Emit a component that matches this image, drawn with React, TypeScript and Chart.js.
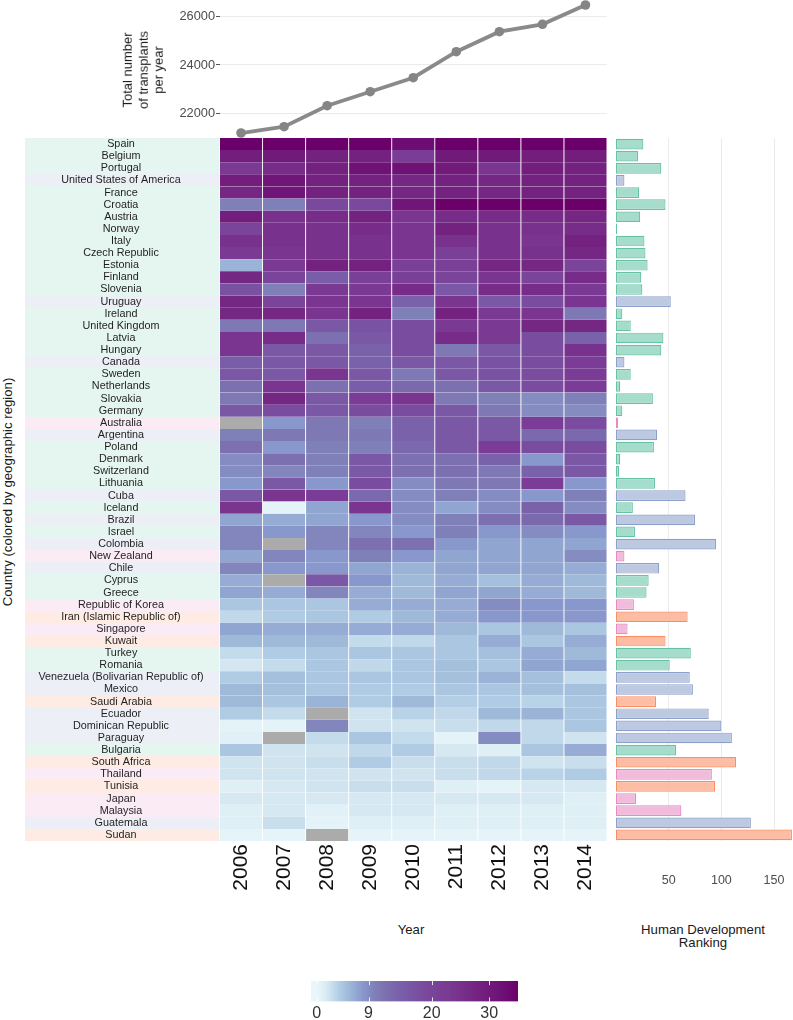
import React, { useEffect, useRef } from 'react';
import { Chart, registerables } from 'chart.js';

Chart.register(...registerables);

const FONT = "'Liberation Sans', Arial, Helvetica, sans-serif";

// ---------- data ----------
const years = ['2006', '2007', '2008', '2009', '2010', '2011', '2012', '2013', '2014'];
const totalTransplants = [21184, 21445, 22315, 22894, 23474, 24551, 25379, 25685, 26484];
const transplantTicks = [22000, 24000, 26000];

const countries = [
  'Spain', 'Belgium', 'Portugal', 'United States of America', 'France', 'Croatia', 'Austria', 'Norway', 'Italy', 'Czech Republic',
  'Estonia', 'Finland', 'Slovenia', 'Uruguay', 'Ireland', 'United Kingdom', 'Latvia', 'Hungary', 'Canada', 'Sweden',
  'Netherlands', 'Slovakia', 'Germany', 'Australia', 'Argentina', 'Poland', 'Denmark', 'Switzerland', 'Lithuania', 'Cuba',
  'Iceland', 'Brazil', 'Israel', 'Colombia', 'New Zealand', 'Chile', 'Cyprus', 'Greece', 'Republic of Korea', 'Iran (Islamic Republic of)',
  'Singapore', 'Kuwait', 'Turkey', 'Romania', 'Venezuela (Bolivarian Republic of)', 'Mexico', 'Saudi Arabia', 'Ecuador', 'Dominican Republic', 'Paraguay',
  'Bulgaria', 'South Africa', 'Thailand', 'Tunisia', 'Japan', 'Malaysia', 'Guatemala', 'Sudan',
];

// E = Europe, A = Americas, P = Asia-Pacific, M = Middle East / Africa
const regions = [
  'E', 'E', 'E', 'A', 'E', 'E', 'E', 'E', 'E', 'E',
  'E', 'E', 'E', 'A', 'E', 'E', 'E', 'E', 'A', 'E',
  'E', 'E', 'E', 'P', 'A', 'E', 'E', 'E', 'E', 'A',
  'E', 'A', 'E', 'A', 'P', 'A', 'E', 'E', 'P', 'M',
  'P', 'M', 'E', 'E', 'A', 'A', 'M', 'A', 'A', 'A',
  'E', 'M', 'P', 'M', 'P', 'P', 'A', 'M',
];

const hdiRank = [
  26, 21, 43, 8, 22, 47, 23, 1, 27, 28,
  30, 24, 25, 52, 6, 14, 45, 43, 8, 14,
  4, 35, 6, 2, 39, 36, 4, 3, 37, 66,
  16, 75, 18, 95, 8, 41, 31, 29, 17, 68,
  11, 47, 71, 51, 70, 73, 38, 88, 100, 110,
  57, 114, 91, 94, 19, 62, 128, 167,
];
const hdiTicks = [50, 100, 150];

const rates2006 = [35, 29, 23, 29, 27, 10, 29, 20, 25, 23, 6, 27, 17, 27, 27, 11, 24, 24, 15, 16, 12, 11, 16, null, 10, 12, 9, 9, 8, 16, 24, 7, 9.5, 9.5, 7, 9.5, 6.5, 7, 4.5, 3, 7, 5.5, 2.8, 2, 4, 5.5, 5.5, 4, 0.5, 1, 4.5, 2.2, 2.2, 1.2, 1.8, 1.2, 1.2, 0.4];
const rates2007 = [35, 30, 26, 31, 31, 10, 25, 25, 25, 24, 23, 20, 10, 20, 27, 11, 26, 16, 16, 16, 24, 27, 18, 8, 11, 8, 12, 9.5, 16, 24, 0.5, 6.5, 8, null, 9.5, 8, null, 6.5, 4.5, 4, 6.5, 5.5, 4, 2.8, 5, 5, 4.5, 2.8, 0.5, null, 2.2, 2.2, 2.2, 1.8, 1.8, 1.8, 2.6, 0.4];
const rates2008 = [35, 28, 28, 28, 28, 19, 26, 25, 25, 25, 28, 15, 23, 24, 24, 16, 12, 16, 16, 24, 12, 16, 16, 11, 11, 10, 10, 10, 8, 22, 7, 7, 9.5, 9.5, 8, 8, 16, 9.5, 4.5, 4.5, 6.5, 5.5, 4.5, 4.5, 4.5, 4.5, 6, null, 9.5, 2.8, 2.2, 2.6, 2.2, 2.2, 1.8, 0.8, 0.5, null];
const rates2009 = [35, 28, 32, 28, 28, 19, 28, 26, 25, 25, 28, 21, 23, 24, 28, 17, 16, 14, 14, 16, 15, 22, 18, 10, 11, 10, 16, 16, 18, 13, 24, 8, 9.5, 12, 10, 7, 8, 6.5, 6.5, 4, 6.5, 2.8, 4.5, 3, 4.5, 4, 4, 2.2, 2.2, 4.5, 3, 4, 2.2, 2.6, 1.8, 1.8, 1.2, 0.3];
const rates2010 = [33, 22, 32, 27, 27, 31, 24, 24, 24, 24, 21, 21, 26, 14, 10, 18, 18, 18, 16, 11, 13, 24, 18, 14, 14, 13, 12, 12, 9, 9, 9, 9, 8, 12, 8, 6, 5.5, 5.5, 6.5, 5.5, 6.5, 3, 4.5, 4.5, 4.5, 4, 5.5, 3.5, 2.2, 2.8, 4, 2.6, 2.2, 2.6, 1.8, 1.8, 1.2, 0.3];
const rates2011 = [35, 30, 30, 28, 28, 35, 26, 28, 25, 21, 21, 20, 16, 24, 28, 23, 26, 11, 16, 16, 12, 11, 16, 16, 16, 16, 12, 12, 11, 10, 7, 10, 10, 8, 7, 7, 6.5, 7, 6.5, 6.5, 5.5, 4.5, 4.5, 5, 5, 4.5, 3.8, 3, 2.6, 0.5, 1.8, 2.6, 2.6, 1.2, 1.8, 1.2, 1.2, 0.3];
const rates2012 = [35, 30, 24, 27, 27, 35, 26, 25, 25, 25, 27, 24, 26, 16, 23, 23, 23, 16, 17, 17, 16, 10, 11, 16, 16, 22, 14, 11, 11, 9, 9, 12, 8, 7, 7, 7, 5, 7, 9, 8, 4.5, 6.5, 5, 4.5, 6, 4.5, 4, 5.5, 3, 9, 1.2, 3, 3, 0.5, 1.8, 1.2, 1.2, 0.3];
const rates2013 = [35, 29, 29, 28, 28, 35, 26, 25, 24, 25, 27, 20, 26, 18, 24, 27, 18, 18, 18, 18, 18, 9, 9, 22, 13, 18, 8, 14, 22, 8, 14, 13, 9, 7, 7, 7, 6.5, 6.5, 8, 8, 5.5, 4.5, 6.5, 7, 5, 5, 3.5, 6, 3, 3, 4.5, 2.2, 3.5, 1.8, 1.8, 1.2, 1.2, 0.3];
const rates2014 = [35, 29, 28, 28, 28, 35, 27, 26, 28, 27, 20, 26, 23, 24, 11, 27, 14, 25, 22, 22, 22, 10, 9, 18, 13, 18, 16, 16, 8, 10, 9, 16, 8, 7, 9, 6.5, 5.5, 5.5, 8, 8, 4.5, 6.5, 5.5, 7, 2.8, 5, 4.5, 4.5, 4.5, 2.2, 6.5, 2.6, 4, 1.8, 1.2, 1.2, 1.2, 0.3];
const rateSeries = [rates2006, rates2007, rates2008, rates2009, rates2010, rates2011, rates2012, rates2013, rates2014];

const legendTicks = [0, 9, 20, 30];
const colorMin = -1;
const colorMax = 35;

// ---------- styles ----------
const colorStops: [number, string][] = [
  [0, '#e9f6fa'], [1.2, '#deeff5'], [2.2, '#d0e4f0'], [3, '#c0d8ea'], [4, '#b0cce4'],
  [5, '#a4c0dc'], [6.5, '#96acd4'], [8, '#8898cc'], [10, '#8080b8'], [12, '#7c70b0'],
  [14, '#7a62aa'], [16, '#7a58a6'], [18, '#7a4ca0'], [20, '#7a449a'], [22, '#7a3c96'],
  [24, '#793590'], [26, '#762c88'], [28, '#742280'], [30, '#711a7a'], [32, '#6e1276'], [35, '#6b006b'],
];
const NA_COLOR = '#ababab';
const regionColor: Record<string, string> = { E: '#66c2a5', A: '#8da0cb', P: '#e78ac3', M: '#fc8d62' };

function hexRgb(h: string) {
  const n = parseInt(h.slice(1), 16);
  return [(n >> 16) & 255, (n >> 8) & 255, n & 255];
}
function tint(hex: string, a: number) {
  const c = hexRgb(hex).map((v) => Math.round(255 - a * (255 - v)));
  return `rgb(${c.join(',')})`;
}
function colorFor(v: number | null) {
  if (v === null || v === undefined) return NA_COLOR;
  const s = colorStops;
  if (v <= s[0][0]) return s[0][1];
  for (let i = 1; i < s.length; i++) {
    if (v <= s[i][0]) {
      const t = (v - s[i - 1][0]) / (s[i][0] - s[i - 1][0]);
      const a = hexRgb(s[i - 1][1]);
      const b = hexRgb(s[i][1]);
      return `rgb(${a.map((c, k) => Math.round(c + (b[k] - c) * t)).join(',')})`;
    }
  }
  return s[s.length - 1][1];
}

// remove Chart.js's automatic label overflow padding so plot areas line up exactly
function noPad(ax: any) {
  ax.paddingTop = 0;
  ax.paddingBottom = 0;
  ax.paddingLeft = 0;
  ax.paddingRight = 0;
}

// ---------- plugins ----------
const regionBands = {
  id: 'regionBands',
  beforeDraw(chart: any) {
    const { ctx, chartArea, scales } = chart;
    const y = scales.y;
    const h = (y.bottom - y.top) / countries.length;
    ctx.save();
    countries.forEach((_, i) => {
      const cy = y.getPixelForValue(i);
      const y0 = Math.round(cy - h / 2);
      const y1 = Math.round(cy + h / 2);
      ctx.fillStyle = tint(regionColor[regions[i]], 0.17);
      ctx.fillRect(0, y0, chartArea.left, y1 - y0);
    });
    ctx.restore();
  },
};

const colorbarTicks = {
  id: 'colorbarTicks',
  afterDatasetsDraw(chart: any) {
    const { ctx, chartArea: a, scales } = chart;
    const len = (a.bottom - a.top) / 5;
    ctx.save();
    ctx.strokeStyle = 'rgba(255,255,255,0.85)';
    ctx.lineWidth = 1;
    legendTicks.forEach((t) => {
      const px = Math.round(scales.x.getPixelForValue(t)) + 0.5;
      ctx.beginPath();
      ctx.moveTo(px, a.top);
      ctx.lineTo(px, a.top + len);
      ctx.moveTo(px, a.bottom - len);
      ctx.lineTo(px, a.bottom);
      ctx.stroke();
    });
    ctx.restore();
  },
};

// ---------- chart configs ----------
function lineConfig(): any {
  return {
    type: 'line',
    data: {
      labels: years,
      datasets: [{
        data: totalTransplants,
        borderColor: '#8a8a8a',
        borderWidth: 3.8,
        pointRadius: 4.8,
        pointBackgroundColor: '#858585',
        pointBorderWidth: 0,
        tension: 0,
        clip: false,
      }],
    },
    options: {
      responsive: false,
      animation: false,
      layout: { padding: 0, autoPadding: false },
      plugins: { legend: { display: false }, tooltip: { enabled: false } },
      scales: {
        x: { type: 'category', offset: true, display: false, afterFit: noPad },
        y: {
          min: 20936,
          max: 26691,
          afterBuildTicks: (ax: any) => { ax.ticks = transplantTicks.map((v) => ({ value: v })); },
          afterFit: (ax: any) => { ax.width = 59.5; noPad(ax); },
          grid: { color: '#ebebeb', lineWidth: 1, tickColor: '#555555', tickLength: 3.5 },
          border: { display: false },
          ticks: { padding: 1, color: '#4d4d4d', font: { size: 12.8, family: FONT }, callback: (v: number) => String(v) },
        },
      },
    },
  };
}

function heatmapConfig(): any {
  return {
    type: 'bar',
    data: {
      labels: countries,
      datasets: years.map((yr, j) => ({
        label: yr,
        data: countries.map(() => 1),
        backgroundColor: rateSeries[j].map(colorFor),
        borderColor: '#ffffff',
        borderWidth: { left: 0.8, right: 0.8, top: 0, bottom: 0 },
        borderSkipped: false,
        barPercentage: 1,
        categoryPercentage: 1,
      })),
    },
    options: {
      indexAxis: 'y',
      responsive: false,
      animation: false,
      layout: { padding: 0, autoPadding: false },
      plugins: { legend: { display: false }, tooltip: { enabled: false } },
      scales: {
        x: {
          type: 'linear',
          stacked: true,
          min: 0,
          max: years.length,
          afterBuildTicks: (ax: any) => { ax.ticks = years.map((_, j) => ({ value: j + 0.5 })); },
          afterFit: (ax: any) => { ax.height = 77; noPad(ax); },
          grid: { display: false, drawTicks: false },
          border: { display: false },
          ticks: {
            autoSkip: false,
            minRotation: 90,
            maxRotation: 90,
            padding: 3,
            color: '#111111',
            font: { size: 21, family: FONT },
            callback: (v: number) => years[Math.floor(v)],
          },
        },
        y: {
          type: 'category',
          stacked: true,
          afterFit: (ax: any) => { ax.width = 194.5; noPad(ax); },
          grid: { display: false, drawTicks: false },
          border: { display: false },
          ticks: { autoSkip: false, crossAlign: 'center', padding: 16, color: '#1f1f1f', font: { size: 10.8, family: FONT } },
        },
      },
    },
    plugins: [regionBands],
  };
}

function hdiConfig(): any {
  return {
    type: 'bar',
    data: {
      labels: countries,
      datasets: [{
        data: hdiRank,
        backgroundColor: regions.map((r) => tint(regionColor[r], 0.58)),
        borderColor: regions.map((r) => regionColor[r]),
        borderWidth: 1.2,
        borderSkipped: false,
        barPercentage: 0.88,
        categoryPercentage: 1,
      }],
    },
    options: {
      indexAxis: 'y',
      responsive: false,
      animation: false,
      layout: { padding: { left: 1, right: 0, top: 0, bottom: 0 }, autoPadding: false },
      plugins: { legend: { display: false }, tooltip: { enabled: false } },
      scales: {
        x: {
          min: 0,
          max: 168,
          afterBuildTicks: (ax: any) => { ax.ticks = hdiTicks.map((v) => ({ value: v })); },
          afterFit: (ax: any) => { ax.height = 57; noPad(ax); },
          grid: { color: '#ebebeb', lineWidth: 1, drawTicks: false },
          border: { display: false },
          ticks: { padding: 32, color: '#4d4d4d', font: { size: 12.5, family: FONT } },
        },
        y: { type: 'category', display: false, afterFit: noPad },
      },
    },
  };
}

function colorbarConfig(): any {
  return {
    type: 'bar',
    data: {
      labels: [''],
      datasets: [{
        data: [[colorMin, colorMax]],
        backgroundColor: (c: any) => {
          const chart = c.chart;
          const xs = chart.scales && chart.scales.x;
          if (!xs || !chart.chartArea) return '#cccccc';
          const x0 = xs.getPixelForValue(colorMin);
          const x1 = xs.getPixelForValue(colorMax);
          const g = chart.ctx.createLinearGradient(x0, 0, x1, 0);
          const n = 60;
          for (let k = 0; k <= n; k++) {
            g.addColorStop(k / n, colorFor(colorMin + ((colorMax - colorMin) * k) / n));
          }
          return g;
        },
        borderWidth: 0,
        barPercentage: 1,
        categoryPercentage: 1,
      }],
    },
    options: {
      indexAxis: 'y',
      responsive: false,
      animation: false,
      layout: { padding: { left: 11, right: 22, top: 6, bottom: 0 }, autoPadding: false },
      plugins: { legend: { display: false }, tooltip: { enabled: false } },
      scales: {
        x: {
          type: 'linear',
          min: colorMin,
          max: colorMax,
          afterBuildTicks: (ax: any) => { ax.ticks = legendTicks.map((v) => ({ value: v })); },
          afterFit: (ax: any) => { ax.height = 18.5; noPad(ax); },
          grid: { display: false, drawTicks: false },
          border: { display: false },
          ticks: { padding: 2, color: '#333333', font: { size: 16, family: FONT } },
        },
        y: { type: 'category', display: false, afterFit: noPad },
      },
    },
    plugins: [colorbarTicks],
  };
}

// ---------- components ----------
function ChartCanvas(props: { left: number; top: number; width: number; height: number; make: () => any }) {
  const ref = useRef<HTMLCanvasElement | null>(null);
  useEffect(() => {
    const chart = new Chart(ref.current as HTMLCanvasElement, props.make());
    return () => chart.destroy();
  }, []);
  return (
    <canvas
      ref={ref}
      width={props.width}
      height={props.height}
      style={{ position: 'absolute', left: props.left, top: props.top, width: props.width, height: props.height }}
    />
  );
}

function Label(props: { x: number; y: number; text: string; size: number; rotate?: boolean; lineHeight?: number; color?: string }) {
  return (
    <div
      style={{
        position: 'absolute',
        left: props.x,
        top: props.y,
        transform: `translate(-50%, -50%)${props.rotate ? ' rotate(-90deg)' : ''}`,
        whiteSpace: 'pre',
        textAlign: 'center',
        fontFamily: FONT,
        fontSize: props.size,
        lineHeight: `${props.lineHeight ?? props.size * 1.2}px`,
        color: props.color ?? '#1a1a1a',
      }}
    >
      {props.text}
    </div>
  );
}

export default function App() {
  return (
    <div style={{ position: 'absolute', left: 0, top: 0, width: 793, height: 1020, overflow: 'hidden', background: '#ffffff' }}>
      <ChartCanvas left={160} top={0} width={447} height={139} make={lineConfig} />
      <ChartCanvas left={25} top={138} width={582} height={780} make={heatmapConfig} />
      <ChartCanvas left={615} top={138} width={178} height={760} make={hdiConfig} />
      <ChartCanvas left={300} top={975} width={240} height={45} make={colorbarConfig} />

      <Label x={142.5} y={70} size={13} lineHeight={15.5} rotate text={'Total number\nof transplants\nper year'} />
      <Label x={7.5} y={492} size={13.2} rotate text={'Country (colored by geographic region)'} />
      <Label x={411} y={930} size={13.2} text={'Year'} />
      <Label x={703} y={936} size={13.2} lineHeight={12.5} text={'Human Development\nRanking'} />
    </div>
  );
}
